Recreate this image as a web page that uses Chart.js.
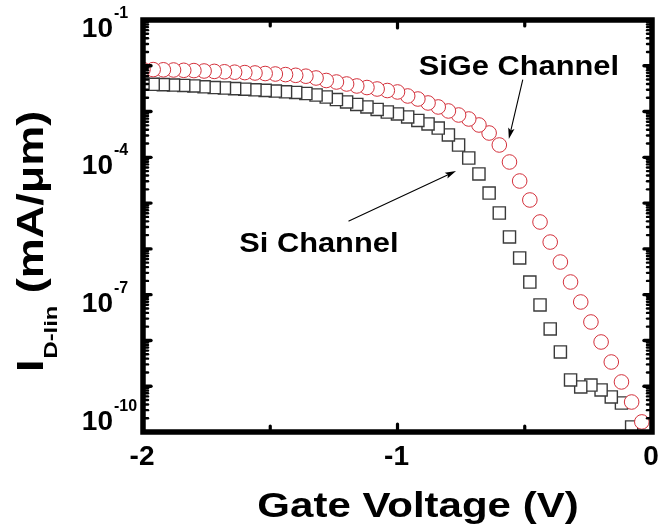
<!DOCTYPE html>
<html>
<head>
<meta charset="utf-8">
<script src="https://cdn.jsdelivr.net/npm/chart.js@4/dist/chart.umd.min.js"></script>
<style>
  html, body { margin: 0; padding: 0; background: #ffffff; }
  canvas { display: block; }
</style>
</head>
<body>
<canvas id="chart" width="662" height="527"></canvas>
<script>
// Gate voltage sweep (V)
const gateVoltage = [
  -2.00, -1.96, -1.92, -1.88, -1.84, -1.80, -1.76, -1.72, -1.68, -1.64,
  -1.60, -1.56, -1.52, -1.48, -1.44, -1.40, -1.36, -1.32, -1.28, -1.24,
  -1.20, -1.16, -1.12, -1.08, -1.04, -1.00, -0.96, -0.92, -0.88, -0.84,
  -0.80, -0.76, -0.72, -0.68, -0.64, -0.60, -0.56, -0.52, -0.48, -0.44,
  -0.40, -0.36, -0.32, -0.28, -0.24, -0.20, -0.16, -0.12, -0.08, -0.04
];

// Linear drain current, Si channel (mA/um)
const siCurrent = [
  4.00e-3, 3.94e-3, 3.88e-3, 3.80e-3, 3.71e-3, 3.62e-3, 3.47e-3, 3.35e-3, 3.27e-3, 3.17e-3,
  3.08e-3, 2.99e-3, 2.90e-3, 2.81e-3, 2.70e-3, 2.61e-3, 2.48e-3, 2.30e-3, 2.08e-3, 1.83e-3,
  1.62e-3, 1.43e-3, 1.26e-3, 1.11e-3, 9.78e-4, 8.85e-4, 7.61e-4, 6.38e-4, 5.35e-4, 4.37e-4,
  3.08e-4, 1.86e-4, 9.67e-5, 4.33e-5, 1.66e-5, 6.08e-6, 1.82e-6, 6.33e-7, 1.89e-7, 5.95e-8,
  1.78e-8, 5.60e-9, 1.37e-9, 9.62e-10, 1.06e-9, 8.28e-10, 5.82e-10, 4.30e-10, 1.29e-10
];

// Linear drain current, SiGe channel (mA/um)
const sigeCurrent = [
  8.29e-3, 8.25e-3, 8.17e-3, 8.09e-3, 7.96e-3, 7.85e-3, 7.69e-3, 7.54e-3, 7.39e-3, 7.24e-3,
  7.10e-3, 6.96e-3, 6.78e-3, 6.61e-3, 6.42e-3, 6.19e-3, 5.92e-3, 5.41e-3, 4.77e-3, 4.42e-3,
  4.00e-3, 3.62e-3, 3.35e-3, 3.11e-3, 2.88e-3, 2.68e-3, 2.19e-3, 1.88e-3, 1.54e-3, 1.26e-3,
  1.03e-3, 8.41e-4, 6.88e-4, 5.09e-4, 3.40e-4, 1.86e-4, 7.91e-5, 3.04e-5, 1.17e-5, 3.87e-6,
  1.41e-6, 5.17e-7, 1.89e-7, 6.92e-8, 2.53e-8, 9.25e-9, 3.38e-9, 1.24e-9, 4.52e-10, 1.66e-10
];

// Axis ticks and labels
const xMajorTicks = [-2, -1, 0];
const xTickLabels = ['-2', '-1', '0'];
const xMinorTicks = [-1.5, -0.5];
const yLabelExponents = [-1, -4, -7, -10];
const yLabelText = ['-1', '-4', '-7', '-10'];

// Callout labels, anchored in data coordinates: [voltage, current]
const sigeLabel = { text: 'SiGe Channel', at: [-0.523, 6.3e-3], from: [-0.508, 4.9e-3], to: [-0.5625, 2.52e-4] };
const siLabel   = { text: 'Si Channel',   at: [-1.309, 8.55e-7], from: [-1.191, 4.07e-6], to: [-0.770, 5.04e-5] };

const FONT = '"Liberation Sans", Arial, Helvetica, sans-serif';

function toPoints(xs, ys) {
  // drawn right-to-left so each marker partly covers its right-hand neighbour
  return ys.map((v, i) => ({ x: xs[i], y: v })).reverse();
}

// Text drawn with a horizontal stretch along its own direction
function wideText(ctx, str, x, y, size, stretch, align) {
  ctx.save();
  ctx.font = `bold ${size}px ${FONT}`;
  const w = ctx.measureText(str).width * stretch;
  const x0 = align === 'center' ? x - w / 2 : align === 'right' ? x - w : x;
  ctx.translate(x0, y);
  ctx.scale(stretch, 1);
  ctx.textAlign = 'left';
  ctx.textBaseline = 'alphabetic';
  ctx.fillText(str, 0, 0);
  ctx.restore();
  return w;
}

function arrow(ctx, x1, y1, x2, y2) {
  const ang = Math.atan2(y2 - y1, x2 - x1);
  const len = 11, half = 3.2;
  ctx.beginPath();
  ctx.moveTo(x1, y1);
  ctx.lineTo(x2 - Math.cos(ang) * len * 0.8, y2 - Math.sin(ang) * len * 0.8);
  ctx.lineWidth = 1.1;
  ctx.stroke();
  ctx.beginPath();
  ctx.moveTo(x2, y2);
  ctx.lineTo(x2 - Math.cos(ang) * len - Math.sin(ang) * half, y2 - Math.sin(ang) * len + Math.cos(ang) * half);
  ctx.lineTo(x2 - Math.cos(ang) * len * 0.8, y2 - Math.sin(ang) * len * 0.8);
  ctx.lineTo(x2 - Math.cos(ang) * len + Math.sin(ang) * half, y2 - Math.sin(ang) * len - Math.cos(ang) * half);
  ctx.closePath();
  ctx.fill();
}

const framePlugin = {
  id: 'frame',
  afterDatasetsDraw(chart) {
    const { ctx, chartArea: a, scales: { x, y } } = chart;
    ctx.save();
    ctx.strokeStyle = '#000';
    ctx.fillStyle = '#000';

    // heavy box
    ctx.lineWidth = 5.5;
    ctx.lineJoin = 'miter';
    ctx.strokeRect(a.left, a.top, a.right - a.left, a.bottom - a.top);

    // inward ticks on all four sides
    ctx.lineCap = 'round';
    const tick = (x1, y1, x2, y2, w) => {
      ctx.lineWidth = w;
      ctx.beginPath(); ctx.moveTo(x1, y1); ctx.lineTo(x2, y2); ctx.stroke();
    };
    xMajorTicks.concat(xMinorTicks).forEach(v => {
      const px = x.getPixelForValue(v);
      const major = xMajorTicks.includes(v);
      const L = major ? 8 : 6;
      tick(px, a.bottom, px, a.bottom - L, 3.2);
      tick(px, a.top, px, a.top + L, 3.2);
    });
    for (let e = -10; e <= -1; e++) {
      const py = y.getPixelForValue(Math.pow(10, e));
      tick(a.left, py, a.left + 8, py, 3.4);
      tick(a.right, py, a.right - 8, py, 3.4);
      if (e < -1) {
        for (let m = 2; m <= 9; m++) {
          const pm = y.getPixelForValue(m * Math.pow(10, e));
          tick(a.left, pm, a.left + 5, pm, 2.4);
          tick(a.right, pm, a.right - 5, pm, 2.4);
        }
      }
    }

    // x tick labels
    xMajorTicks.forEach((v, i) => {
      const px = x.getPixelForValue(v);
      wideText(ctx, xTickLabels[i], px - 1, a.bottom + 33, 28, 1.0, 'center');
    });

    // y tick labels as powers of ten
    yLabelExponents.forEach((e, i) => {
      const py = y.getPixelForValue(Math.pow(10, e));
      const base = Math.min(py + 17, a.bottom - 2);
      wideText(ctx, '10', 113, base, 28, 1.0, 'right');
      wideText(ctx, yLabelText[i], 114, base - 19, 16, 1.0, 'left');
    });

    // x axis title
    wideText(ctx, 'Gate Voltage (V)', 418, 517, 35, 1.2, 'center');

    // y axis title, rotated: I with subscript D-lin, then units
    ctx.save();
    ctx.translate(43, 372);
    ctx.rotate(-Math.PI / 2);
    let cx = 0;
    cx += wideText(ctx, 'I', cx, 0, 36, 1.25, 'left');
    cx += wideText(ctx, 'D-lin', cx + 1, 14, 19, 1.25, 'left') + 1;
    wideText(ctx, ' (mA/\u03BCm)', cx, 0, 36, 1.25, 'left');
    ctx.restore();

    // callouts
    [sigeLabel, siLabel].forEach(c => {
      const tx = x.getPixelForValue(c.at[0]), ty = y.getPixelForValue(c.at[1]);
      wideText(ctx, c.text, tx, ty, 28, 1.1, 'center');
      arrow(ctx,
        x.getPixelForValue(c.from[0]), y.getPixelForValue(c.from[1]),
        x.getPixelForValue(c.to[0]), y.getPixelForValue(c.to[1]));
    });

    ctx.restore();
  }
};

new Chart(document.getElementById('chart'), {
  type: 'scatter',
  data: {
    datasets: [
      {
        label: 'SiGe Channel',
        data: toPoints(gateVoltage, sigeCurrent),
        pointStyle: 'circle',
        pointRadius: 7.3,
        borderColor: '#d3303b',
        backgroundColor: '#ffffff',
        borderWidth: 1,
        clip: 0
      },
      {
        label: 'Si Channel',
        data: toPoints(gateVoltage, siCurrent),
        pointStyle: 'rect',
        pointRadius: 8.6,
        borderColor: '#3a3a3a',
        backgroundColor: '#ffffff',
        borderWidth: 1.4,
        clip: 0
      }
    ]
  },
  options: {
    responsive: false,
    animation: false,
    devicePixelRatio: 1,
    layout: { padding: { left: 143, top: 20, right: 7, bottom: 95 } },
    scales: {
      x: { type: 'linear', min: -2, max: 0, display: false },
      y: { type: 'logarithmic', min: 1e-10, max: 1e-1, display: false }
    },
    plugins: { legend: { display: false }, tooltip: { enabled: false } },
    events: []
  },
  plugins: [framePlugin]
});
</script>
</body>
</html>
